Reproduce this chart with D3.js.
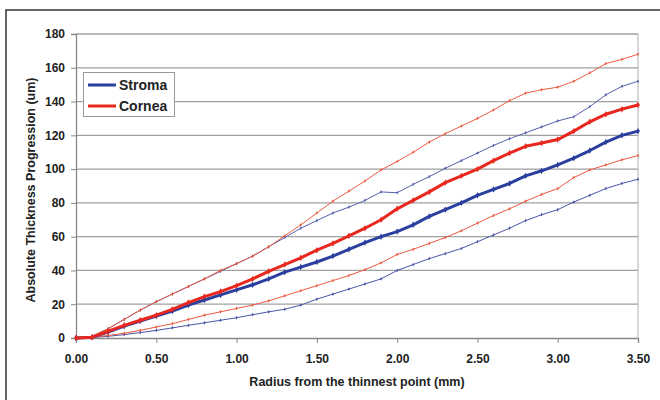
<!DOCTYPE html>
<html><head><meta charset="utf-8">
<script src="https://cdn.jsdelivr.net/npm/d3@7/dist/d3.min.js"></script>
<style>body{margin:0;background:#fff;}svg{display:block;font-family:"Liberation Sans",Arial,sans-serif;}</style>
</head><body><svg id="c" width="660" height="400"></svg>
<script>
const radius = [0,0.1,0.2,0.3,0.4,0.5,0.6,0.7,0.8,0.9,1.0,1.1,1.2,1.3,1.4,1.5,1.6,1.7,1.8,1.9,2.0,2.1,2.2,2.3,2.4,2.5,2.6,2.7,2.8,2.9,3.0,3.1,3.2,3.3,3.4,3.5];
const corneaMean  = [0,0.5,4,7.5,10.5,13.5,17,21,24.5,27.5,31,35,39.5,43.5,47.5,52,56,60.5,65,70,76.5,81.5,86.5,92,96,100,105,109.5,113.5,115.5,117.5,122.5,128,132.5,135.5,138];
const stromaMean  = [0,0.5,3.5,7,10,13,16,19.5,22.5,25.5,28.5,31.5,35,39,42,45,48.5,52.5,56.5,60,63,67,72,76,80,84.5,88,91.5,96,99,102.5,106.5,111,116,120,122.5];
const corneaUpper = [0,1,5.5,11,16.5,21.5,26,30.5,35,40,44,48.5,54,60.5,67,74,81,87,93,99.5,104.5,110,116,121,125.5,130,135,140.5,145,147,148.5,152,157,162.5,165,168];
const stromaUpper = [0,1,5.5,11,16.5,21.5,26,30.5,35,39.5,44,48.5,54,59.5,65,69.5,74,77.5,81.5,86.5,86,91,95.5,100.5,105,109.5,114,118,121.5,125,128.5,131,137,144,149,152];
const corneaLower = [0,0.5,1.5,2.8,4.5,6.5,8.5,11,13.5,15.5,17.5,19.5,22,25,28,31,34,37,40.5,44.5,49.5,52.5,56,59.5,63.5,68,72.5,76.5,81,85,88.5,95,99.5,102.5,105.5,108];
const stromaLower = [0,0.3,1,2,3.2,4.5,6,7.5,9,10.5,12,13.8,15.5,17,19.5,23,26,29,32,35,40,43.5,47,50,53,57,61,65,69.5,73,76,80.5,84.5,88.5,91.5,94];
const xTicks = [0,0.5,1.0,1.5,2.0,2.5,3.0,3.5];
const yTicks = [0,20,40,60,80,100,120,140,160,180];
const legendLabels = ["Stroma","Cornea"];

const svg = d3.select("#c");
const x = d3.scaleLinear().domain([0,3.5]).range([76,638]);
const y = d3.scaleLinear().domain([0,180]).range([338,34]);

// outer frame
svg.append("path").attr("d","M6,400 L6,10 L660,10").attr("fill","none").attr("stroke","#333").attr("stroke-width",1.5);

// gridlines
svg.append("g").selectAll("line").data(yTicks.slice(1)).join("line")
  .attr("x1",76).attr("x2",638).attr("y1",d=>y(d)).attr("y2",d=>y(d))
  .attr("stroke","#a0a0a0").attr("stroke-width",1.3);
// right border
svg.append("line").attr("x1",638).attr("x2",638).attr("y1",34).attr("y2",338).attr("stroke","#b0b0b0");

const xAxis = svg.append("g").attr("transform","translate(0,338)")
  .call(d3.axisBottom(x).tickValues(xTicks).tickFormat(d3.format(".2f")).tickSize(5).tickPadding(11));
const yAxis = svg.append("g").attr("transform","translate(76,0)")
  .call(d3.axisLeft(y).tickValues(yTicks).tickSize(5).tickPadding(6));
[xAxis,yAxis].forEach(a=>{
  a.select(".domain").attr("stroke","#888").attr("stroke-width",1.3);
  a.selectAll(".tick line").attr("stroke","#888");
  a.selectAll("text").attr("font-family","Liberation Sans, Arial, sans-serif").attr("font-size",12).attr("font-weight","bold").attr("fill","#222");
});

svg.append("text").attr("x",357).attr("y",386).attr("text-anchor","middle")
  .attr("font-size",12.5).attr("font-weight","bold").attr("fill","#222").text("Radius from the thinnest point (mm)");
svg.append("text").attr("transform","translate(35,190) rotate(-90)").attr("text-anchor","middle")
  .attr("font-size",12.5).attr("font-weight","bold").attr("fill","#222").text("Absolute Thickness Progression (um)");

const line = d3.line().x((d,i)=>x(radius[i])).y(d=>y(d)).curve(d3.curveLinear);
const series = [
  {v:stromaLower, c:"#4a56a8", w:1},
  {v:corneaLower, c:"#ec5a40", w:1},
  {v:stromaUpper, c:"#5560ad", w:1},
  {v:corneaUpper, c:"#ec5a40", w:1},
  {v:stromaMean, c:"#2b3f9e", w:3, m:true},
  {v:corneaMean, c:"#e8281e", w:3, m:true}
];
series.forEach(s=>{
  svg.append("path").datum(s.v).attr("d",line).attr("fill","none")
    .attr("stroke",s.c).attr("stroke-width",s.w).attr("stroke-linejoin","round");
  svg.append("g").selectAll("path").data(s.v).join("path")
    .attr("transform",(d,i)=>`translate(${x(radius[i])},${y(d)})`)
    .attr("d",d3.symbol().type(d3.symbolDiamond).size(s.m?12:4)())
    .attr("fill",s.c);
});

// legend
const lg = svg.append("g");
lg.append("rect").attr("x",83.5).attr("y",72.5).attr("width",91).attr("height",44)
  .attr("fill","#fff").attr("stroke","#999");
const legendColors = ["#2b3f9e","#e8281e"];
legendLabels.forEach((t,i)=>{
  const yy = 85 + i*21;
  lg.append("line").attr("x1",88).attr("x2",116).attr("y1",yy).attr("y2",yy)
    .attr("stroke",legendColors[i]).attr("stroke-width",3);
  lg.append("text").attr("x",119).attr("y",yy+5).attr("font-size",14).attr("font-weight","bold")
    .attr("fill","#222").text(t);
});
</script></body></html>
